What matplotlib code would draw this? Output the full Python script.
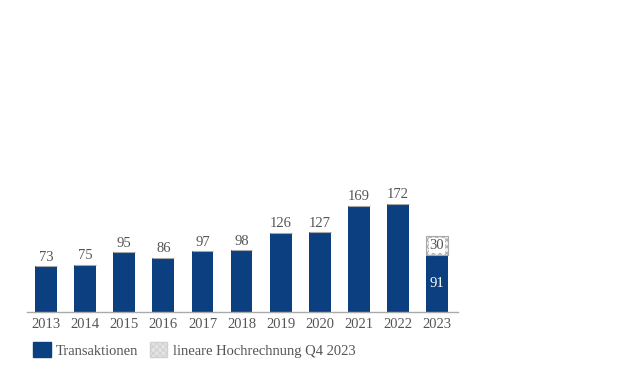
import matplotlib.pyplot as plt
import matplotlib.patches as mpatches

years = ["2013", "2014", "2015", "2016", "2017", "2018", "2019", "2020", "2021", "2022", "2023"]
transaktionen = [73, 75, 95, 86, 97, 98, 126, 127, 169, 172, 91]
hochrechnung = [0, 0, 0, 0, 0, 0, 0, 0, 0, 0, 30]

blue = "#0b3f7f"
grey = "#555555"
plt.rcParams["font.family"] = ["Liberation Serif", "DejaVu Serif"]
plt.rcParams["hatch.color"] = "#a8a8a8"
plt.rcParams["hatch.linewidth"] = 0.7

fig = plt.figure(figsize=(6.3, 3.81), dpi=100)
ax = fig.add_axes([27 / 630, 69 / 381, 431 / 630, 312 / 381])

x = list(range(len(years)))
w = 0.56
ax.bar(x, transaktionen, width=w, color=blue)
ax.bar(x, hochrechnung, width=w, bottom=transaktionen, color="#f2f2f2",
       edgecolor="#a8a8a8", linewidth=0.8, hatch="xxxxx")

for i, v in enumerate(transaktionen):
    if hochrechnung[i] > 0:
        ax.text(i, v / 2, str(v), ha="center", va="center", color="white", fontsize=10.5)
        ax.text(i, v + hochrechnung[i] / 2, str(hochrechnung[i]), ha="center",
                va="center", color=grey, fontsize=10.5,
                bbox=dict(facecolor="white", edgecolor="none", pad=0.5))
    else:
        ax.text(i, v + 4, str(v), ha="center", va="bottom", color=grey, fontsize=10.5)

ax.set_xlim(-0.49, 10.54)
ax.set_ylim(0, 312 / 0.628)
ax.set_xticks(x)
ax.set_xticklabels(years, color=grey, fontsize=10.5)
ax.tick_params(axis="x", length=0, pad=4)
ax.set_yticks([])
for s in ["top", "right", "left"]:
    ax.spines[s].set_visible(False)
ax.spines["bottom"].set_color("#aaaaaa")
ax.spines["bottom"].set_linewidth(1)
ax.patch.set_alpha(0)

h1 = mpatches.Patch(color=blue)
h2 = mpatches.Patch(facecolor="#e4e4e4", edgecolor="#d0d0d0", hatch="xxxxx")
fig.legend([h1, h2], ["Transaktionen", "lineare Hochrechnung Q4 2023"],
           loc="upper left", bbox_to_anchor=(26 / 630, 1 - 335 / 381), ncol=2,
           frameon=False, fontsize=10.5, labelcolor=grey, handlelength=1.2,
           handleheight=1.2, handletextpad=0.35, columnspacing=0.8, borderpad=0)

fig.savefig("out.png", dpi=100)
